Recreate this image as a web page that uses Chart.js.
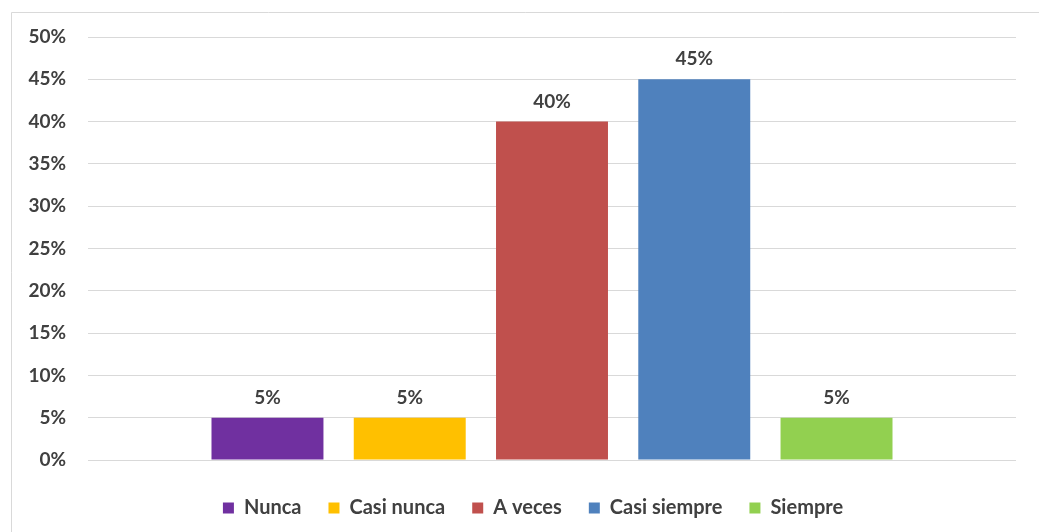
<!DOCTYPE html>
<html>
<head>
<meta charset="utf-8">
<script src="https://cdn.jsdelivr.net/npm/chart.js@4/dist/chart.umd.min.js"></script>
<style>
  html, body { margin: 0; padding: 0; background: #fff; }
  #wrap { width: 1039px; height: 532px; position: relative; }
</style>
</head>
<body>
<div id="wrap"><canvas id="c" width="1039" height="532"></canvas></div>
<script>
// Response categories and their share (%)
const categories = ['Nunca', 'Casi nunca', 'A veces', 'Casi siempre', 'Siempre'];
const values = [5, 5, 40, 45, 5];
const colors = ['#7030A0', '#FFC000', '#C0504D', '#4F81BD', '#92D050'];
const tickValues = [0, 5, 10, 15, 20, 25, 30, 35, 40, 45, 50];

const textColor = '#404040';
const fontFamily = 'Lato, "Open Sans", "DejaVu Sans", sans-serif';
const legendCenterX = 533;

// Outer frame of the chart
const framePlugin = {
  id: 'frame',
  beforeDraw(chart) {
    const ctx = chart.ctx;
    ctx.save();
    ctx.fillStyle = '#fff';
    ctx.fillRect(0, 0, chart.width, chart.height);
    ctx.strokeStyle = '#d9d9d9';
    ctx.lineWidth = 1;
    ctx.beginPath();
    ctx.moveTo(11.5, chart.height + 5);
    ctx.lineTo(11.5, 12.5);
    ctx.lineTo(chart.width + 5, 12.5);
    ctx.stroke();
    ctx.restore();
  }
};

// Place the legend row around a fixed horizontal centre
const legendShift = {
  id: 'legendShift',
  afterLayout(chart) {
    const lg = chart.legend;
    if (!lg) return;
    const shift = legendCenterX - (lg.left + lg.right) / 2;
    lg.left += shift;
    lg.right += shift;
  }
};

// Value labels above each bar
const valueLabels = {
  id: 'valueLabels',
  afterDatasetsDraw(chart) {
    const ctx = chart.ctx;
    ctx.save();
    ctx.font = 'bold 19px ' + fontFamily;
    ctx.fillStyle = textColor;
    ctx.textAlign = 'center';
    ctx.textBaseline = 'middle';
    chart.data.datasets.forEach((ds, i) => {
      const meta = chart.getDatasetMeta(i);
      meta.data.forEach((bar, j) => {
        ctx.fillText(ds.data[j] + '%', bar.x, bar.y - 20);
      });
    });
    ctx.restore();
  }
};

new Chart(document.getElementById('c'), {
  type: 'bar',
  data: {
    labels: [''],
    datasets: categories.map((name, i) => ({
      label: name,
      data: [values[i]],
      backgroundColor: colors[i],
      borderWidth: 0,
      barPercentage: 0.787,
      categoryPercentage: 0.7665
    }))
  },
  options: {
    responsive: false,
    animation: false,
    layout: { padding: { top: 37, right: 23, bottom: 4, left: 0 } },
    plugins: {
      legend: {
        position: 'bottom',
        labels: {
          color: textColor,
          font: { family: fontFamily, size: 20, weight: 'bold' },
          boxWidth: 11,
          boxHeight: 11,
          padding: 27
        }
      },
      tooltip: { enabled: false }
    },
    scales: {
      x: {
        display: true,
        afterFit(scale) { scale.height = 11; },
        ticks: { display: false },
        border: { display: false },
        grid: { display: false }
      },
      y: {
        min: 0,
        max: 50,
        afterFit(scale) { scale.width = 88; },
        afterBuildTicks(scale) { scale.ticks = tickValues.map(v => ({ value: v })); },
        border: { display: false },
        grid: { color: '#d9d9d9', drawTicks: false, lineWidth: 1 },
        ticks: {
          color: textColor,
          font: { family: fontFamily, size: 19, weight: 'bold' },
          padding: 22,
          callback: v => v + '%'
        }
      }
    }
  },
  plugins: [framePlugin, legendShift, valueLabels]
});
</script>
</body>
</html>
